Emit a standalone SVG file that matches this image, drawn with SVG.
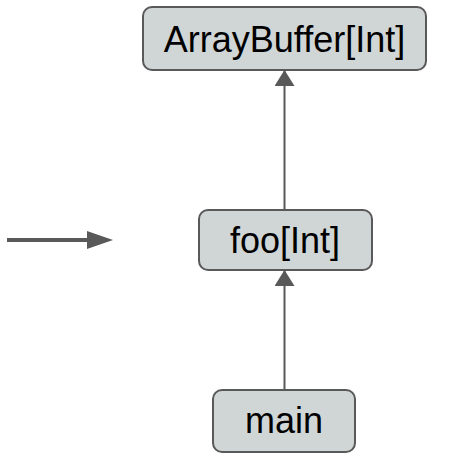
<svg xmlns="http://www.w3.org/2000/svg" width="452" height="453" viewBox="0 0 452 453">
<style>
.node rect{fill:#d0d5d6;stroke:#595959;stroke-width:2}
.node text{font-family:"Liberation Sans",Arial,sans-serif;font-size:36px;fill:#000;text-anchor:middle}
.edge{stroke:#595959;stroke-width:2;fill:none}
</style>
<defs>
<marker id="ah2" viewBox="0 0 10 10" refX="10" refY="5" markerWidth="8" markerHeight="10" orient="auto" preserveAspectRatio="none">
<path d="M0,0L10,5L0,10z" fill="#595959"/>
</marker>
</defs>
<g id="connectors">
<path class="edge" d="M284.5,210V70" marker-end="url(#ah2)"/>
<path class="edge" d="M284.5,390V270" marker-end="url(#ah2)"/>
<path d="M7,240H100" stroke="#595959" stroke-width="4" fill="none"/>
<path d="M87,231L113,240L87,249z" fill="#595959"/>
</g>
<g id="arraybuffer" class="node">
<rect x="143" y="7" width="283" height="63" rx="9"/>
<text x="284.5" y="52">ArrayBuffer[Int]</text>
</g>
<g id="foo" class="node">
<rect x="199" y="210" width="173" height="60" rx="9"/>
<text x="285" y="253">foo[Int]</text>
</g>
<g id="main" class="node">
<rect x="213" y="390" width="142" height="62" rx="9"/>
<text x="284" y="433">main</text>
</g>
</svg>
